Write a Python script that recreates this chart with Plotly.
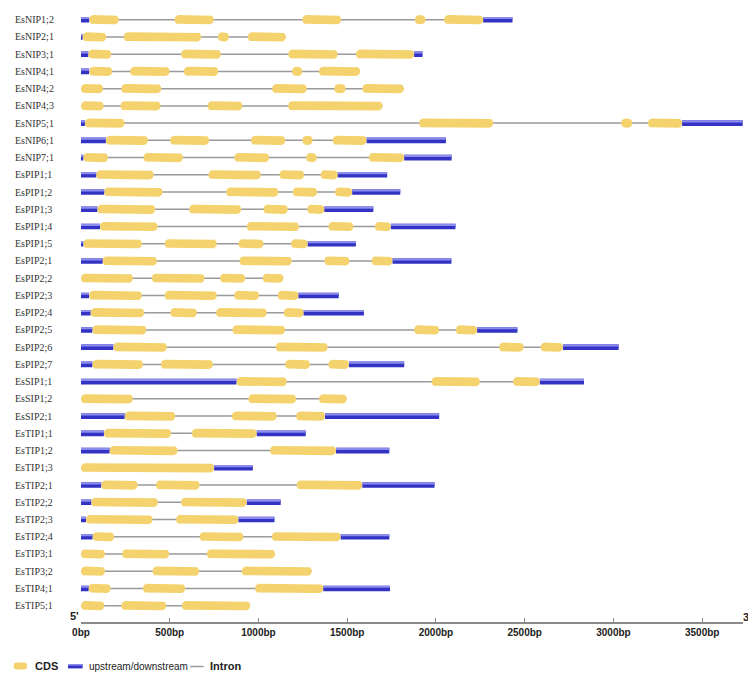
import math
import plotly.graph_objects as go

# ---------------- data (bp) ----------------
genes = ["EsNIP1;2", "EsNIP2;1", "EsNIP3;1", "EsNIP4;1", "EsNIP4;2", "EsNIP4;3",
         "EsNIP5;1", "EsNIP6;1", "EsNIP7;1", "EsPIP1;1", "EsPIP1;2", "EsPIP1;3",
         "EsPIP1;4", "EsPIP1;5", "EsPIP2;1", "EsPIP2;2", "EsPIP2;3", "EsPIP2;4",
         "EsPIP2;5", "EsPIP2;6", "EsPIP2;7", "EsSIP1;1", "EsSIP1;2", "EsSIP2;1",
         "EsTIP1;1", "EsTIP1;2", "EsTIP1;3", "EsTIP2;1", "EsTIP2;2", "EsTIP2;3",
         "EsTIP2;4", "EsTIP3;1", "EsTIP3;2", "EsTIP4;1", "EsTIP5;1"]

# upstream / downstream (UTR) segments per gene
utr = [
    [[0, 46], [2266, 2431]],
    [[0, 9]],
    [[0, 41], [1877, 1924]],
    [[0, 46]],
    [],
    [],
    [[0, 22], [3387, 3728]],
    [[0, 140], [1609, 2056]],
    [[0, 13], [1821, 2088]],
    [[0, 86], [1446, 1725]],
    [[0, 131], [1528, 1799]],
    [[0, 92], [1371, 1647]],
    [[0, 107], [1746, 2110]],
    [[0, 13], [1277, 1549]],
    [[0, 122], [1755, 2087]],
    [],
    [[0, 45], [1225, 1452]],
    [[0, 54], [1254, 1594]],
    [[0, 64], [2232, 2459]],
    [[0, 182], [2716, 3029]],
    [[0, 64], [1510, 1821]],
    [[0, 876], [2585, 2834]],
    [],
    [[0, 246], [1375, 2018]],
    [[0, 129], [990, 1266]],
    [[0, 161], [1437, 1737]],
    [[750, 968]],
    [[0, 114], [1585, 1992]],
    [[0, 58], [934, 1125]],
    [[0, 28], [887, 1090]],
    [[0, 65], [1463, 1737]],
    [],
    [],
    [[0, 43], [1365, 1741]],
    [],
]

# CDS segments per gene
cds = [
    [[46, 212], [527, 748], [1247, 1465], [1881, 1941], [2046, 2266]],
    [[9, 142], [240, 677], [771, 833], [940, 1154]],
    [[41, 170], [564, 788], [1168, 1446], [1549, 1877]],
    [[46, 176], [277, 499], [579, 773], [1189, 1247], [1341, 1572]],
    [[0, 124], [227, 452], [1077, 1272], [1427, 1491], [1585, 1819]],
    [[0, 127], [222, 448], [713, 909], [1167, 1699]],
    [[22, 245], [1905, 2322], [3044, 3106], [3194, 3387]],
    [[140, 377], [502, 722], [958, 1151], [1247, 1305], [1418, 1609]],
    [[13, 152], [352, 574], [864, 1060], [1268, 1328], [1622, 1821]],
    [[86, 409], [718, 1013], [1118, 1257], [1350, 1446]],
    [[131, 459], [818, 1112], [1193, 1330], [1431, 1528]],
    [[92, 418], [609, 902], [1028, 1165], [1275, 1371]],
    [[107, 431], [934, 1228], [1394, 1534], [1656, 1746]],
    [[13, 343], [471, 765], [887, 1028], [1183, 1277]],
    [[122, 427], [893, 1187], [1371, 1512], [1637, 1755]],
    [[0, 292], [399, 696], [784, 925], [1024, 1140]],
    [[45, 343], [471, 765], [863, 1003], [1108, 1225]],
    [[54, 356], [503, 653], [761, 1047], [1142, 1254]],
    [[64, 368], [853, 1150], [1877, 2018], [2112, 2232]],
    [[182, 484], [1097, 1390], [2356, 2494], [2590, 2716]],
    [[64, 349], [450, 743], [1150, 1290], [1394, 1510]],
    [[876, 1159], [1975, 2247], [2434, 2585]],
    [[0, 292], [943, 1212], [1341, 1497]],
    [[246, 531], [850, 1103], [1212, 1375]],
    [[129, 508], [624, 990]],
    [[161, 544], [1065, 1437]],
    [[0, 750]],
    [[114, 319], [422, 668], [1215, 1585]],
    [[58, 433], [563, 934]],
    [[28, 403], [536, 887]],
    [[65, 186], [668, 915], [1075, 1463]],
    [[0, 135], [231, 497], [709, 1093]],
    [[0, 135], [403, 666], [906, 1300]],
    [[43, 167], [349, 587], [981, 1365]],
    [[0, 131], [227, 480], [568, 953]],
]

tick_vals = [0, 500, 1000, 1500, 2000, 2500, 3000, 3500]
tick_text = ["0bp", "500bp", "1000bp", "1500bp", "2000bp", "2500bp", "3000bp", "3500bp"]
legend_labels = ["CDS", "upstream/downstream", "Intron"]

# ---------------- layout geometry ----------------
# the page body has an 8px margin; positions below are in page pixels
OFF = 8
W, H = 748, 665
PLOT_LEFT, PLOT_RIGHT = 80.7, 743.3      # page px
PLOT_TOP, PLOT_BOTTOM = OFF, 622          # page px
L = PLOT_LEFT - OFF
R = W - (PLOT_RIGHT - OFF)
T = PLOT_TOP - OFF
B = H - (PLOT_BOTTOM - OFF)
X_MAX = 3730
plot_w = W - L - R
plot_h = H - T - B
row_px = 17.235
first_row_px = 19.7
y_top = -(first_row_px - PLOT_TOP) / row_px
y_bot = y_top + plot_h / row_px
px_per_bp = plot_w / X_MAX

CDS_COLOR = "#F4D36E"
UTR_DARK = "#3232C4"
UTR_LIGHT = "#8C8CEC"
INTRON_COLOR = "#9A9A9A"


def dx(p):
    return p / px_per_bp


def dy(p):
    return p / row_px


def rrect(x0, x1, yc, hh_px, r_px, n=6):
    rx = min(dx(r_px), (x1 - x0) / 2.0)
    ry = dy(min(r_px, hh_px))
    hh = dy(hh_px)
    corners = [
        (x1 - rx, yc + hh - ry, 0, 90),
        (x0 + rx, yc + hh - ry, 90, 180),
        (x0 + rx, yc - hh + ry, 180, 270),
        (x1 - rx, yc - hh + ry, 270, 360),
    ]
    xs, ys = [], []
    for cx, cy, a0, a1 in corners:
        for k in range(n + 1):
            a = math.radians(a0 + (a1 - a0) * k / n)
            xs.append(cx + rx * math.cos(a))
            ys.append(cy + ry * math.sin(a))
    xs.append(xs[0])
    ys.append(ys[0])
    return xs, ys


def rect(x0, x1, ya, yb):
    return [x0, x1, x1, x0, x0], [ya, ya, yb, yb, ya]


fig = go.Figure()

# introns: a line across each gene
ix, iy = [], []
for i in range(len(genes)):
    segs = cds[i] + utr[i]
    s = min(a for a, b in segs)
    e = max(b for a, b in segs)
    ix += [s, e, None]
    iy += [i, i, None]
fig.add_trace(go.Scatter(x=ix, y=iy, mode="lines",
                         line=dict(color=INTRON_COLOR, width=1.5),
                         hoverinfo="skip", showlegend=False))

# UTR bars (dark body + light top band)
ux, uy, lx, ly = [], [], [], []
for i in range(len(genes)):
    for a, b in utr[i]:
        xs, ys = rect(a, b, i - dy(2.8), i + dy(2.8))
        ux += xs + [None]
        uy += ys + [None]
        xs, ys = rect(a, b, i - dy(2.8), i - dy(0.6))
        lx += xs + [None]
        ly += ys + [None]
fig.add_trace(go.Scatter(x=ux, y=uy, mode="lines", fill="toself",
                         fillcolor=UTR_DARK, line=dict(width=0, color=UTR_DARK),
                         hoverinfo="skip", showlegend=False))
fig.add_trace(go.Scatter(x=lx, y=ly, mode="lines", fill="toself",
                         fillcolor=UTR_LIGHT, line=dict(width=0, color=UTR_LIGHT),
                         hoverinfo="skip", showlegend=False))

# CDS rounded boxes
cx_, cy_ = [], []
for i in range(len(genes)):
    for a, b in cds[i]:
        xs, ys = rrect(a, b, i, 4.6, 4.2)
        cx_ += xs + [None]
        cy_ += ys + [None]
fig.add_trace(go.Scatter(x=cx_, y=cy_, mode="lines", fill="toself",
                         fillcolor=CDS_COLOR, line=dict(width=0, color=CDS_COLOR),
                         hoverinfo="skip", showlegend=False))


def px2paper(px, py):
    # page pixel -> paper coordinates
    return (px - PLOT_LEFT) / plot_w, (PLOT_BOTTOM - py) / plot_h


annotations = []
# gene labels
for i, g in enumerate(genes):
    xp, _ = px2paper(13, 0)
    annotations.append(dict(x=xp, xref="paper", y=i, yref="y",
                            text=g, showarrow=False, xanchor="left", yanchor="middle",
                            font=dict(family="Liberation Serif, Times New Roman, serif",
                                      size=10, color="#333333")))

# 5' and 3'
for txt, px, py in [("5'", 74.5, 616), ("3'", 747.5, 616.5)]:
    xp, yp = px2paper(px, py)
    annotations.append(dict(x=xp, y=yp, xref="paper", yref="paper", text=f"<b>{txt}</b>",
                            showarrow=False, xanchor="center", yanchor="middle",
                            font=dict(family="Liberation Sans, Arial, sans-serif",
                                      size=11, color="#222222")))

# legend
shapes = []
x0, y0 = px2paper(13.3, 669.5)
x1, y1 = px2paper(26.7, 662.5)
rxp = 3 / plot_w
ryp = 3 / plot_h
path = (f"M {x0 + rxp},{y0} L {x1 - rxp},{y0} Q {x1},{y0} {x1},{y0 + ryp} "
        f"L {x1},{y1 - ryp} Q {x1},{y1} {x1 - rxp},{y1} L {x0 + rxp},{y1} "
        f"Q {x0},{y1} {x0},{y1 - ryp} L {x0},{y0 + ryp} Q {x0},{y0} {x0 + rxp},{y0} Z")
shapes.append(dict(type="path", path=path, xref="paper", yref="paper",
                   fillcolor=CDS_COLOR, line=dict(width=0)))
x0, y0 = px2paper(67.7, 668.4)
x1, y1 = px2paper(82.3, 664.0)
shapes.append(dict(type="rect", x0=x0, x1=x1, y0=y0, y1=y1, xref="paper", yref="paper",
                   fillcolor=UTR_DARK, line=dict(width=0)))
_, y0b = px2paper(67.7, 665.6)
shapes.append(dict(type="rect", x0=x0, x1=x1, y0=y0b, y1=y1, xref="paper", yref="paper",
                   fillcolor=UTR_LIGHT, line=dict(width=0)))
x0, y0 = px2paper(190, 666.5)
x1, _ = px2paper(203.5, 666.5)
shapes.append(dict(type="line", x0=x0, x1=x1, y0=y0, y1=y0, xref="paper", yref="paper",
                   line=dict(color=INTRON_COLOR, width=1.5)))

for txt, px, size, bold in [(legend_labels[0], 33, 11, True),
                            (legend_labels[1], 86.5, 10, False),
                            (legend_labels[2], 207.5, 11, True)]:
    xp, yp = px2paper(px, 666)
    annotations.append(dict(x=xp, y=yp, xref="paper", yref="paper",
                            text=f"<b>{txt}</b>" if bold else txt,
                            showarrow=False, xanchor="left", yanchor="middle",
                            font=dict(family="Liberation Sans, Arial, sans-serif",
                                      size=size, color="#222222")))

fig.update_layout(
    width=W, height=H,
    margin=dict(l=L, r=R, t=T, b=B, pad=0),
    paper_bgcolor="white", plot_bgcolor="white",
    showlegend=False,
    xaxis=dict(range=[0, X_MAX], showgrid=False, zeroline=False,
               showline=True, linecolor="#8A8A8A", linewidth=1.5,
               ticks="inside", ticklen=4, tickwidth=1, tickcolor="#8A8A8A",
               tickvals=tick_vals, ticktext=[f"<b>{t}</b>" for t in tick_text],
               tickfont=dict(family="Liberation Sans, Arial, sans-serif",
                             size=10, color="#222222"),
               fixedrange=True),
    yaxis=dict(range=[y_bot, y_top], showgrid=False, zeroline=False,
               showticklabels=False, showline=False, ticks="", fixedrange=True),
    annotations=annotations,
    shapes=shapes,
)

fig.write_html("out.html")
